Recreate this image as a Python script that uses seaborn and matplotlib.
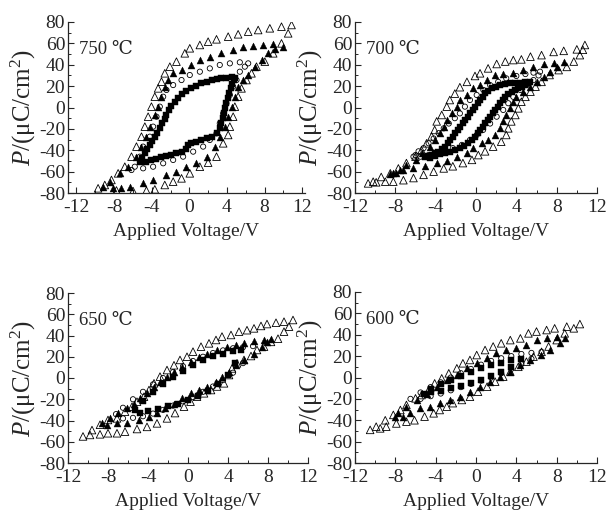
import matplotlib
matplotlib.use("Agg")
import matplotlib.pyplot as plt
import pandas as pd
import seaborn as sns
from matplotlib.ticker import MultipleLocator

# ---------------- data ----------------
panel_titles = ["750 ℃", "700 ℃", "650 ℃", "600 ℃"]
x_ticks = [-12, -8, -4, 0, 4, 8, 12]
y_ticks = [-80, -60, -40, -20, 0, 20, 40, 60, 80]

# ---- 750 C ----
t750_to_v = [10.87, 9.80, 8.56, 7.32, 6.26, 5.19, 4.13, 2.89, 2.00, 1.12, 0.05, -0.48, -1.37, -2.07, -2.61, -2.96,
             -3.32, -3.67, -4.03, -4.38, -4.73, -5.09, -5.62, -6.15, -6.86, -7.57, -8.28, -8.99, -9.70,
             -7.75, -5.98, -4.56, -3.67, -2.61, -1.72, -0.83, 0.05, 1.12, 2.00, 2.89, 3.60, 4.13, 4.31, 4.66,
             4.84, 5.19, 5.55, 6.08, 6.61, 7.14, 8.03, 8.92, 9.80, 10.51]
t750_to_p = [77.2, 75.6, 74.1, 72.5, 71.0, 68.5, 66.3, 63.8, 61.6, 58.5, 55.4, 50.7, 42.9, 38.2, 32.0, 24.2,
             17.9, 10.1, 0.8, -8.6, -17.9, -27.3, -36.6, -46.0, -55.4, -61.6, -67.8, -72.5, -75.6,
             -77.6, -78.2, -77.8, -76.6, -72.5, -69.4, -66.3, -61.6, -55.4, -51.6, -46.0, -33.5, -25.7, -17.9, -8.6,
             0.8, 10.1, 17.9, 25.7, 32.0, 38.2, 42.9, 50.7, 60.0, 69.4]
t750_tf_v = [9.98, 8.92, 7.85, 6.79, 5.73, 4.66, 3.42, 2.18, 1.12, 0.23, -0.83, -1.72, -2.25, -2.61, -2.96, -3.32,
             -3.67, -4.20, -4.56, -5.09, -5.62, -6.51, -7.39, -8.46, -9.17,
             -8.10, -7.22, -6.33, -4.91, -3.85, -2.43, -1.37, -0.30, 0.76, 1.83, 2.71, 3.24, 3.78, 4.13, 4.49,
             4.84, 5.19, 5.73, 6.26, 6.97, 7.68, 8.39, 9.10]
t750_tf_p = [56.9, 59.1, 58.5, 57.5, 56.9, 53.8, 50.7, 47.6, 44.4, 39.8, 35.1, 32.0, 25.7, 19.5, 10.1, 0.8,
             -7.0, -17.9, -27.3, -36.6, -46.0, -55.4, -61.6, -69.4, -74.1,
             -75.6, -75.6, -74.1, -71.0, -67.8, -63.2, -60.0, -55.4, -52.2, -46.0, -36.6, -27.3, -17.9, -8.6, 0.8,
             10.1, 19.5, 25.7, 30.4, 38.2, 44.4, 50.7, 54.4]
t750_ci_v = [6.26, 5.37, 4.31, 3.24, 2.18, 1.12, 0.05, -0.83, -1.72, -2.43, -2.78, -3.14, -3.49, -3.85, -4.20,
             -4.91, -5.27, -5.80, -6.15,
             -4.91, -3.85, -2.78, -1.72, -0.66, 0.41, 1.47, 2.18, 2.89, 3.24, 3.60, 3.95, 4.31, 4.66, 5.02,
             5.37, 5.90]
t750_ci_p = [41.3, 42.3, 41.3, 39.8, 36.6, 33.5, 30.4, 25.7, 21.0, 16.4, 10.1, 0.8, -8.6, -17.9, -27.3,
             -36.6, -46.0, -55.4, -58.5,
             -56.9, -55.4, -52.2, -49.1, -46.0, -41.3, -36.6, -30.4, -24.2, -14.8, -5.5, 3.9, 11.7, 19.5, 25.7,
             33.5, 38.2]
t750_sq_v = [4.84, 4.49, 3.95, 3.42, 2.89, 2.36, 1.83, 1.29, 0.76, 0.23, -0.30, -0.83, -1.19, -1.54, -1.90,
             -2.15, -2.43, -2.61, -2.86, -3.14, -3.39, -3.67, -3.92, -4.20, -4.45, -4.73, -4.98, -5.20,
             -4.56, -4.03, -3.49, -2.96, -2.43, -1.90, -1.37, -0.83, -0.37, -0.12, 0.23, 0.76, 1.29, 1.83, 2.36,
             2.89, 3.24, 3.42, 3.53, 3.67, 3.81, 3.95, 4.06, 4.20, 4.38, 4.56, 4.73]
t750_sq_p = [27.9, 28.2, 27.9, 27.3, 26.4, 25.7, 24.2, 22.6, 20.1, 17.9, 15.7, 12.6, 8.6, 5.5, 1.4,
             -2.3, -7.0, -10.8, -14.8, -19.5, -23.6, -27.3, -31.4, -35.1, -39.1, -42.9, -46.9, -51.3,
             -50.7, -49.1, -47.9, -46.6, -45.4, -44.1, -42.9, -41.3, -39.1, -35.1, -32.9, -32.0, -30.4, -28.9,
             -27.3, -24.2, -19.5, -14.8, -10.1, -5.5, -0.8, 3.9, 8.6, 13.3, 17.9, 22.0, 25.7]

# ---- 700 C ----
t700_to_v = [10.8, 10.0, 8.7, 7.7, 6.5, 5.4, 4.5, 3.7, 2.9, 2.05, 1.2, 0.4, -0.1, -0.9, -1.6, -2.1, -2.6, -2.9,
             -3.4, -3.9, -4.1, -4.4, -4.9, -5.4, -6.0, -6.9, -7.7, -8.5, -9.4, -10.2, -10.7,
             -9.9, -9.0, -8.2, -7.2, -6.2, -5.2, -4.2, -3.2, -2.3, -1.3, -0.4, 0.23, 0.9, 1.7, 2.5, 3.0, 3.2,
             3.5, 3.9, 4.2, 4.5, 4.9, 5.4, 5.9, 6.5, 7.3, 8.2, 9.0, 9.7, 10.3, 10.6]
t700_to_p = [58.5, 54.4, 53.0, 52.0, 49.0, 47.6, 45.0, 44.4, 43.0, 40.7, 36.6, 32.0, 29.5, 24.0, 19.0, 13.0, 7.0,
             0.8, -7.0, -13.0, -21.0, -27.0, -33.5, -40.0, -46.0, -52.0, -57.0, -61.6, -65.0, -69.4, -71.0,
             -70.0, -69.4, -69.4, -68.0, -66.0, -63.0, -60.0, -57.0, -55.0, -52.0, -49.0, -44.5, -41.0, -36.6,
             -32.0, -25.7, -19.5, -13.0, -7.0, -0.8, 5.4, 10.0, 14.8, 19.5, 24.0, 30.4, 35.0, 38.0, 43.0, 49.0,
             54.0]
t700_tf_v = [8.7, 7.7, 6.7, 5.7, 4.7, 3.7, 2.7, 1.9, 1.1, 0.4, -0.26, -0.9, -1.6, -1.9, -2.4, -2.9, -3.2, -3.6,
             -4.1, -4.6, -5.4, -6.0, -6.9, -7.5, -8.2, -8.5,
             -7.9, -7.2, -6.2, -5.1, -3.9, -2.9, -1.9, -0.9, -0.26, 0.56, 1.2, 1.9, 2.4, 2.7, 3.0, 3.4, 3.7, 4.0,
             4.7, 5.4, 6.0, 6.7, 7.3, 8.0]
t700_tf_p = [43.0, 42.0, 40.7, 38.0, 35.0, 32.0, 31.3, 30.4, 25.7, 21.0, 18.0, 11.7, 7.0, 0.8, -5.5, -12.0,
             -18.0, -24.0, -30.4, -36.6, -43.0, -49.0, -54.0, -58.5, -61.0, -62.0,
             -61.6, -58.5, -57.0, -55.0, -52.0, -50.0, -46.0, -43.0, -38.0, -33.5, -30.4, -25.7, -19.5, -13.0,
             -7.0, -0.8, 5.4, 10.0, 14.8, 19.5, 24.0, 29.0, 33.5, 38.0]
t700_ci_v = [6.35, 5.7, 4.9, 4.0, 3.0, 2.2, 1.4, 0.73, 0.07, -0.6, -1.1, -1.6, -2.1, -2.7, -3.2, -3.7, -4.2,
             -4.7, -5.2, -5.7, -6.0, -6.2,
             -5.5, -4.7, -3.9, -3.1, -2.3, -1.4, -0.6, 0.07, 0.7, 1.4, 2.05, 2.7, 3.2, 3.7, 4.4, 5.0, 5.7, 6.2]
t700_ci_p = [33.5, 32.6, 31.3, 29.5, 27.3, 24.0, 21.0, 16.4, 11.7, 7.0, 0.8, -5.5, -10.0, -15.0, -19.5, -24.0,
             -29.0, -33.5, -38.0, -41.0, -44.5, -46.0,
             -46.0, -44.5, -43.0, -41.0, -38.0, -35.0, -30.4, -25.7, -21.0, -15.0, -8.6, -2.3, 4.0, 10.0, 16.4,
             21.0, 25.7, 30.0]
t700_sq_v = [5.36, 4.86, 4.37, 3.87, 3.37, 2.88, 2.38, 1.98, 1.55, 1.22, 0.89, 0.66, 0.40, 0.17, -0.10, -0.33,
             -0.59, -0.83, -1.09, -1.32, -1.59, -1.82, -2.08, -2.31, -2.58, -2.81, -3.08, -3.41, -3.74, -4.07,
             -4.40, -4.73, -5.06,
             -4.56, -4.07, -3.57, -3.08, -2.58, -2.08, -1.59, -1.16, -0.76, -0.43, -0.10, 0.17, 0.40, 0.66, 0.89,
             1.16, 1.39, 1.65, 1.89, 2.15, 2.38, 2.65, 2.88, 3.21, 3.54, 3.87, 4.20, 4.53, 4.86, 5.19]
t700_sq_p = [24.2, 23.5, 23.2, 22.9, 22.6, 22.0, 21.0, 19.5, 17.9, 15.7, 13.3, 10.1, 7.0, 3.9, 0.8, -2.3,
             -5.5, -8.6, -11.7, -14.8, -17.9, -21.1, -24.2, -27.3, -30.4, -33.5, -36.6, -39.1, -41.3, -42.9,
             -44.5, -45.4, -46.0,
             -47.2, -45.4, -43.5, -42.3, -41.3, -39.8, -38.2, -36.0, -33.5, -30.4, -27.3, -24.2, -21.1, -17.9,
             -14.8, -11.7, -8.6, -5.5, -2.3, 0.8, 3.9, 7.0, 10.1, 12.6, 14.8, 16.4, 17.9, 19.5, 21.0, 22.6]

# ---- 650 C ----
t650_to_v = [10.5, 9.6, 8.8, 7.9, 7.3, 6.6, 5.9, 5.1, 4.3, 3.4, 2.8, 2.1, 1.3, 0.5, -0.1, -0.8, -1.4, -2.1, -2.8,
             -3.4, -3.9, -4.4, -5.1, -5.6, -6.3, -7.1, -8.0, -8.8, -9.6, -10.5,
             -9.8, -8.8, -8.0, -7.1, -6.3, -5.1, -4.1, -3.1, -2.1, -1.3, -0.4, 0.25, 0.9, 1.6, 2.3, 2.9, 3.6,
             4.1, 4.4, 4.9, 5.6, 6.3, 6.9, 7.6, 8.3, 9.0, 9.6, 10.1]
t650_to_p = [54.6, 53.0, 52.0, 50.8, 49.0, 46.7, 45.0, 43.6, 40.5, 39.0, 35.8, 32.6, 29.5, 24.8, 20.0, 17.0, 12.0,
             7.5, 1.3, -5.0, -11.3, -17.6, -22.3, -27.0, -31.7, -38.0, -39.5, -44.0, -49.0, -55.0,
             -53.6, -53.0, -52.0, -52.0, -50.5, -48.0, -46.0, -42.7, -38.0, -33.0, -27.0, -22.3, -17.6, -14.4,
             -11.3, -8.0, -5.0, 2.8, 9.0, 13.8, 17.0, 20.7, 26.4, 29.5, 34.0, 37.0, 43.6, 48.3]
t650_tf_v = [8.3, 7.6, 6.6, 5.6, 4.8, 3.9, 2.9, 1.9, 1.1, 0.25, -0.6, -1.4, -2.1, -2.8, -3.4, -4.1, -4.8, -5.4,
             -6.1, -7.0, -7.8, -8.6,
             -8.1, -7.1, -6.1, -4.9, -3.9, -3.1, -2.3, -1.4, -0.6, 0.25, 1.1, 1.9, 2.8, 3.4, 4.1, 4.8, 5.6, 6.6,
             7.4, 7.9]
t650_tf_p = [37.0, 36.0, 35.0, 33.0, 31.0, 29.5, 26.4, 23.0, 20.0, 15.4, 10.7, 6.0, 1.3, -3.4, -8.0, -14.4,
             -19.0, -24.0, -28.5, -33.0, -38.0, -42.7,
             -44.0, -42.7, -42.0, -39.5, -36.4, -33.0, -28.5, -24.0, -19.0, -14.4, -11.3, -8.0, -3.4, 1.3, 6.0,
             12.0, 17.0, 23.0, 29.5, 34.0]
t650_ci_v = [6.5, 5.5, 4.5, 3.5, 2.5, 1.5, 0.5, -0.5, -1.5, -2.5, -3.5, -4.5, -5.5, -6.5, -7.2,
             -6.5, -5.5, -4.5, -3.5, -2.5, -1.5, -0.5, 0.5, 1.5, 2.5, 3.5, 4.5, 5.5]
t650_ci_p = [30.0, 29.0, 28.0, 26.0, 23.5, 20.0, 16.0, 11.0, 5.5, 0.0, -6.0, -13.0, -20.0, -28.0, -34.0,
             -38.0, -37.5, -36.0, -33.5, -30.0, -26.0, -22.0, -18.0, -13.0, -8.0, -2.0, 5.0, 14.0]
t650_sq_v = [5.3, 4.5, 3.5, 2.5, 1.5, 0.5, -0.5, -1.5, -2.5, -3.5, -4.5, -5.3,
             -4.8, -4.0, -3.0, -2.0, -1.0, 0.0, 1.0, 2.0, 3.0, 4.0, 4.7]
t650_sq_p = [26.0, 25.0, 23.0, 20.5, 17.0, 12.5, 6.5, 0.5, -6.0, -13.5, -22.0, -30.0,
             -33.0, -31.5, -29.0, -26.5, -24.0, -21.0, -17.0, -12.0, -6.0, 3.0, 14.0]

# ---- 600 C ----
t600_to_v = [10.3, 9.0, 7.8, 7.0, 6.0, 5.2, 4.4, 3.4, 2.5, 1.7, 0.9, 0.07, -0.6, -1.3, -1.9, -2.7, -3.4, -4.1,
             -4.7, -5.4, -6.0, -6.9, -7.5, -8.2, -9.0, -9.9, -10.5,
             -9.5, -8.9, -7.9, -6.9, -6.1, -5.1, -4.2, -3.6, -2.9, -2.3, -1.4, -0.6, 0.2, 1.1, 1.9, 2.7, 3.4,
             4.2, 5.0, 5.7, 6.5, 7.2, 8.0, 8.8, 9.7]
t600_to_p = [50.0, 47.6, 46.0, 44.4, 43.0, 41.3, 36.6, 35.0, 32.0, 29.0, 25.7, 21.0, 16.4, 13.3, 8.6, 3.9, -0.8,
             -5.5, -11.7, -16.4, -19.5, -25.7, -30.4, -35.0, -40.0, -46.0, -49.0,
             -47.6, -46.0, -43.0, -41.3, -40.0, -36.6, -33.5, -30.4, -27.3, -24.0, -21.0, -18.0, -13.3, -8.6,
             -3.9, 0.8, 5.5, 10.0, 14.8, 19.5, 24.0, 29.0, 35.0, 41.3, 46.0]
t600_tf_v = [8.8, 8.0, 7.0, 6.0, 5.0, 4.0, 3.0, 2.0, 1.1, 0.07, -0.9, -1.9, -2.9, -3.9, -4.9, -5.9, -6.9, -7.7,
             -8.0,
             -7.2, -6.5, -5.6, -4.6, -3.6, -2.6, -1.6, -0.6, 0.4, 1.4, 2.4, 3.4, 4.4, 5.4, 6.4, 7.3, 8.3]
t600_tf_p = [36.6, 37.6, 36.6, 35.0, 30.4, 27.3, 25.7, 22.6, 18.0, 13.3, 8.6, 2.3, -2.3, -8.6, -15.0, -21.0,
             -27.3, -33.5, -36.6,
             -36.6, -33.5, -29.0, -27.3, -24.0, -21.0, -18.0, -13.3, -8.6, -3.9, 0.8, 5.5, 11.7, 16.4, 21.0,
             25.7, 32.0]
t600_ci_v = [6.5, 5.5, 4.5, 3.5, 2.5, 1.5, 0.5, -0.5, -1.5, -2.5, -3.5, -4.5, -5.5, -6.5,
             -5.5, -4.5, -3.5, -2.5, -1.5, -0.5, 0.5, 1.5, 2.5, 3.5, 4.5, 5.5]
t600_ci_p = [24.0, 23.0, 22.0, 20.0, 18.0, 15.5, 12.0, 8.0, 4.0, 0.0, -4.5, -9.0, -14.0, -20.0,
             -20.0, -17.5, -15.0, -12.0, -9.0, -6.0, -3.0, 0.0, 4.0, 8.0, 12.5, 17.5]
t600_sq_v = [4.5, 3.5, 2.5, 1.5, 0.5, -0.5, -1.5, -2.5, -3.5, -4.5, -5.2,
             -4.5, -3.5, -2.5, -1.5, -0.5, 0.5, 1.5, 2.5, 3.5]
t600_sq_p = [17.0, 16.0, 14.0, 11.5, 8.5, 5.0, 1.5, -2.0, -6.0, -11.0, -15.0,
             -14.0, -12.5, -10.0, -7.5, -5.0, -2.0, 1.5, 5.0, 10.0]

panels = [
    [(t750_to_v, t750_to_p), (t750_tf_v, t750_tf_p), (t750_ci_v, t750_ci_p), (t750_sq_v, t750_sq_p)],
    [(t700_to_v, t700_to_p), (t700_tf_v, t700_tf_p), (t700_ci_v, t700_ci_p), (t700_sq_v, t700_sq_p)],
    [(t650_to_v, t650_to_p), (t650_tf_v, t650_tf_p), (t650_ci_v, t650_ci_p), (t650_sq_v, t650_sq_p)],
    [(t600_to_v, t600_to_p), (t600_tf_v, t600_tf_p), (t600_ci_v, t600_ci_p), (t600_sq_v, t600_sq_p)],
]

# ---------------- style ----------------
sns.set_style("ticks")
plt.rcParams['font.family'] = ['Liberation Serif', 'DejaVu Serif', 'DejaVu Sans']
plt.rcParams['mathtext.fontset'] = 'custom'
plt.rcParams['mathtext.rm'] = 'Liberation Serif'
plt.rcParams['mathtext.it'] = 'Liberation Serif:italic'
plt.rcParams['axes.linewidth'] = 0.9

marker_styles = [
    dict(marker='^', s=30, color='black', facecolor='none', edgecolor='black', linewidth=0.6),
    dict(marker='^', s=25, color='black', edgecolor='black', linewidth=0.3),
    dict(marker='o', s=14, color='black', facecolor='none', edgecolor='black', linewidth=0.6),
    dict(marker='s', s=13, color='black', edgecolor='black', linewidth=0.3),
]

fig = plt.figure(figsize=(6.07, 5.13), dpi=100)
boxes = [
    [68 / 607, 1 - 193 / 513, 237 / 607, 171 / 513],
    [355 / 607, 1 - 193 / 513, 242 / 607, 171 / 513],
    [68 / 607, 1 - 463 / 513, 240 / 607, 170 / 513],
    [355 / 607, 1 - 463 / 513, 242 / 607, 171 / 513],
]
xlims = [(-12.9, 12.3), (-12, 12), (-12, 12), (-12, 12)]

for i, box in enumerate(boxes):
    ax = fig.add_axes(box)
    for (v, p), st in zip(panels[i], marker_styles):
        df = pd.DataFrame({"V": v, "P": p})
        sns.scatterplot(data=df, x="V", y="P", ax=ax, legend=False, zorder=3, **st)
    ax.set_xlim(*xlims[i])
    ax.set_ylim(-80, 80)
    ax.set_xticks(x_ticks)
    ax.set_yticks(y_ticks)
    ax.set_xticklabels([str(t) for t in x_ticks])
    ax.set_yticklabels([str(t) for t in y_ticks])
    ax.xaxis.set_minor_locator(MultipleLocator(2))
    ax.yaxis.set_minor_locator(MultipleLocator(10))
    ax.tick_params(which='major', direction='in', length=4, width=0.8, labelsize=14)
    ax.tick_params(axis='x', which='major', pad=4)
    ax.tick_params(axis='y', which='major', pad=2)
    ax.tick_params(which='minor', direction='in', length=2, width=0.7)
    sns.despine(ax=ax)
    ax.set_xlabel("Applied Voltage/V", fontsize=14, labelpad=5)
    ax.set_ylabel(r"$P$/(μC/cm$^{2}$)", fontsize=18, labelpad=1)
    ax.text(0.045, 0.84, panel_titles[i], transform=ax.transAxes, ha='left', va='center',
            fontsize=13.5)

fig.savefig("out.png", dpi=100)
